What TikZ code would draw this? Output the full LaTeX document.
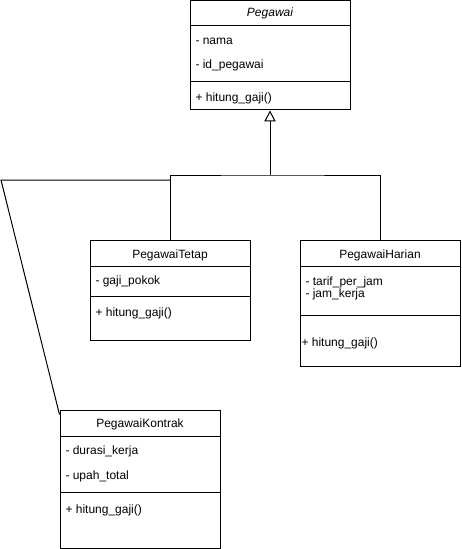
\documentclass[tikz,border=0pt]{standalone}
\usepackage{fontspec}
\setmainfont{Liberation Sans}
\usetikzlibrary{arrows.meta,calc,fit}

\tikzset{
  box/.style={draw,line width=0.75pt,inner sep=0pt,fit={#1}},
  attr/.style={anchor=base west,inner sep=0pt},
  title/.style={anchor=base,inner sep=0pt},
  inherit/.style={-{Triangle[open,length=8.25pt,width=8.5pt]}}
}

\begin{document}
\begin{tikzpicture}[x=0.75pt,y=-0.75pt,line width=0.75pt,
    font=\fontsize{9}{11}\selectfont]
  \useasboundingbox (0,0) rectangle (461,549);

  % class boxes
  \node[box={(190,1) (350,110)}] (pegawai) {};
  \node[box={(90,240) (250,340)}] (tetap) {};
  \node[box={(300,240) (460,366)}] (harian) {};
  \node[box={(60,410) (220,548)}] (kontrak) {};

  % Pegawai
  \draw (190,26)--(350,26);
  \draw (190,82)--(350,82);
  \node[title] at (270,17) {\itshape Pegawai};
  \node[attr] at (195,45) {- nama};
  \node[attr] at (195,69) {- id\_pegawai};
  \node[attr] at (195,102) {+ hitung\_gaji()};

  % PegawaiTetap
  \draw (90,266)--(250,266);
  \draw (90,296)--(250,296);
  \node[title] at (170,258.5) {PegawaiTetap};
  \node[attr] at (95,284.5) {- gaji\_pokok};
  \node[attr] at (95,316) {+ hitung\_gaji()};

  % PegawaiHarian
  \draw (300,266)--(460,266);
  \draw (300,315)--(460,315);
  \node[title] at (380,258.5) {PegawaiHarian};
  \node[attr] at (305,285) {- tarif\_per\_jam};
  \node[attr] at (305,297) {- jam\_kerja};
  \node[attr] at (301,346) {+ hitung\_gaji()};

  % PegawaiKontrak
  \draw (60,436)--(220,436);
  \draw (60,492.5)--(220,492.5);
  \node[title] at (140,427.5) {PegawaiKontrak};
  \node[attr] at (65,454) {- durasi\_kerja};
  \node[attr] at (65,479) {- upah\_total};
  \node[attr] at (65,513) {+ hitung\_gaji()};

  % generalisation
  \coordinate (bus) at (270,175);
  \coordinate (bend) at (1,180);
  \draw[inherit] (bus)--(pegawai.south);
  \draw (tetap.north) |- (bus) -| (harian.north);
  \draw ($(kontrak.north west)+(0,5)$)--(bend)--(bend -| tetap.north);
\end{tikzpicture}
\end{document}
